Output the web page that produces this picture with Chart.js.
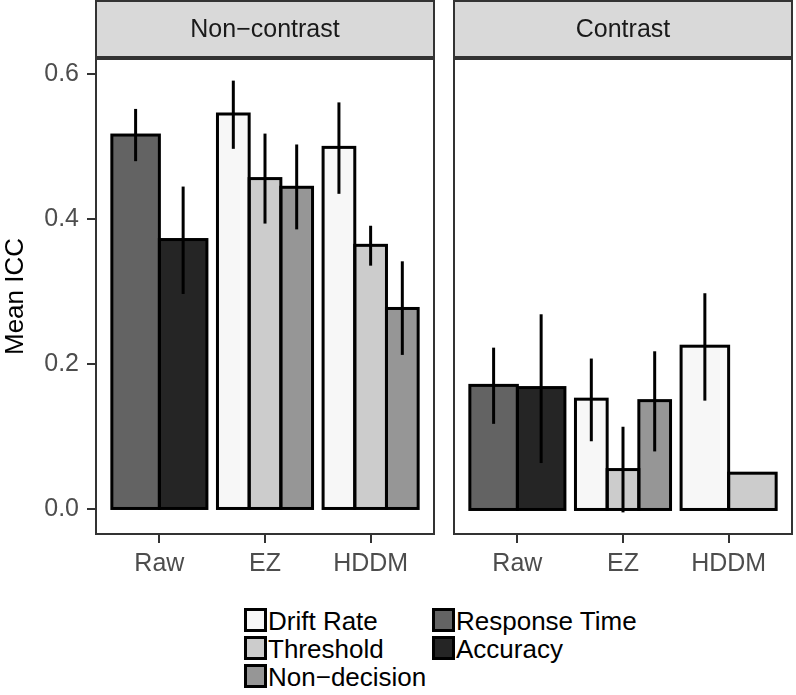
<!DOCTYPE html>
<html>
<head>
<meta charset="utf-8">
<script src="https://cdn.jsdelivr.net/npm/chart.js@4"></script>
<style>
  body { margin: 0; background: #fff; font-family: "Liberation Sans", Arial, sans-serif; }
  #wrap { position: relative; width: 796px; height: 695px; }
  .panel { position: absolute; top: 0; height: 590px; }
  .key { position: absolute; width: 23px; height: 24px; border: 3px solid #000; box-sizing: border-box; }
  .lab { position: absolute; font-size: 26px; line-height: 28px; color: #000; white-space: nowrap; }
</style>
</head>
<body>
<div id="wrap">
  <div class="panel" style="left:0;width:440px"><canvas id="nonContrast"></canvas></div>
  <div class="panel" style="left:440px;width:356px"><canvas id="contrast"></canvas></div>
  <div id="legend"></div>
</div>
<script>
const categories = ['Raw', 'EZ', 'HDDM'];
const seriesNames = ['Drift Rate', 'Threshold', 'Non\u2212decision', 'Response Time', 'Accuracy'];
const seriesFills = ['#f7f7f7', '#cccccc', '#969696', '#636363', '#252525'];
const panelTitles = ['Non\u2212contrast', 'Contrast'];
const yTicks = [0, 0.2, 0.4, 0.6];

// rows follow seriesNames, columns follow categories
const nonContrastMean = [
  [null, 0.545, 0.499],
  [null, 0.456, 0.364],
  [null, 0.444, 0.277],
  [0.516, null, null],
  [0.372, null, null]
];
const nonContrastLow = [
  [null, 0.497, 0.435],
  [null, 0.394, 0.336],
  [null, 0.386, 0.213],
  [0.480, null, null],
  [0.297, null, null]
];
const nonContrastHigh = [
  [null, 0.591, 0.561],
  [null, 0.518, 0.391],
  [null, 0.503, 0.342],
  [0.552, null, null],
  [0.445, null, null]
];

const contrastMean = [
  [null, 0.152, 0.225],
  [null, 0.055, 0.050],
  [null, 0.150, null],
  [0.171, null, null],
  [0.168, null, null]
];
const contrastLow = [
  [null, 0.094, 0.150],
  [null, -0.004, null],
  [null, 0.080, null],
  [0.118, null, null],
  [0.064, null, null]
];
const contrastHigh = [
  [null, 0.208, 0.298],
  [null, 0.114, null],
  [null, 0.218, null],
  [0.223, null, null],
  [0.269, null, null]
];

const FONT = '"Liberation Sans", Arial, sans-serif';

// bar outlines, error bars, panel border and facet strip
const panelDecor = {
  id: 'panelDecor',
  afterDatasetsDraw(chart) {
    const ctx = chart.ctx;
    const yScale = chart.scales.y;
    ctx.save();
    ctx.strokeStyle = '#000';
    ctx.lineWidth = 3;
    chart.data.datasets.forEach((ds, i) => {
      chart.getDatasetMeta(i).data.forEach((bar, j) => {
        if (ds.data[j].y == null) return;
        const p = bar.getProps(['x', 'y', 'base', 'width'], true);
        ctx.strokeRect(p.x - p.width / 2, p.y, p.width, p.base - p.y);
      });
    });
    ctx.lineCap = 'butt';
    chart.data.datasets.forEach((ds, i) => {
      chart.getDatasetMeta(i).data.forEach((bar, j) => {
        if (ds.low[j] == null) return;
        ctx.beginPath();
        ctx.moveTo(bar.x, yScale.getPixelForValue(ds.low[j]));
        ctx.lineTo(bar.x, yScale.getPixelForValue(ds.high[j]));
        ctx.stroke();
      });
    });
    ctx.restore();
  },
  afterDraw(chart, args, opts) {
    const ctx = chart.ctx;
    const a = chart.chartArea;
    ctx.save();
    ctx.strokeStyle = '#333333';
    ctx.lineWidth = 2;
    ctx.strokeRect(a.left, a.top, a.right - a.left, a.bottom - a.top);
    ctx.fillStyle = '#d9d9d9';
    ctx.fillRect(a.left, 1, a.right - a.left, a.top - 3);
    ctx.strokeRect(a.left, 1, a.right - a.left, a.top - 3);
    ctx.fillStyle = '#1a1a1a';
    ctx.font = '25px ' + FONT;
    ctx.textAlign = 'center';
    ctx.textBaseline = 'middle';
    ctx.fillText(opts.title, (a.left + a.right) / 2, a.top / 2 + 1);
    ctx.restore();
  }
};

function makeChart(id, title, mean, low, high, showY, pad) {
  return new Chart(document.getElementById(id), {
    type: 'bar',
    data: {
      datasets: seriesNames.map((name, s) => ({
        label: name,
        data: categories.map((c, k) => ({ x: k + 1, y: mean[s][k] })),
        low: low[s],
        high: high[s],
        backgroundColor: seriesFills[s],
        borderWidth: 0,
        skipNull: true,
        categoryPercentage: 0.9,
        barPercentage: 1
      }))
    },
    options: {
      responsive: true,
      maintainAspectRatio: false,
      animation: false,
      layout: { padding: pad },
      plugins: {
        legend: { display: false },
        tooltip: { enabled: false },
        panelDecor: { title: title }
      },
      scales: {
        x: {
          type: 'linear',
          min: 0.4,
          max: 3.6,
          offset: false,
          afterBuildTicks: sc => { sc.ticks = categories.map((c, k) => ({ value: k + 1 })); },
          afterFit: sc => { sc.height = 56; },
          ticks: {
            callback: (v, i) => categories[i],
            color: '#4d4d4d',
            font: { family: FONT, size: 25 },
            padding: 6,
            autoSkip: false,
            maxRotation: 0
          },
          grid: { offset: false, drawOnChartArea: false, tickLength: 9, color: '#333333', lineWidth: 2 },
          border: { display: false }
        },
        y: {
          display: showY,
          min: -0.0338,
          max: 0.6208,
          afterBuildTicks: sc => { sc.ticks = yTicks.map(v => ({ value: v })); },
          afterFit: sc => { sc.width = showY ? 96 : 0; },
          ticks: {
            callback: v => v.toFixed(1),
            color: '#4d4d4d',
            font: { family: FONT, size: 25 },
            padding: 8
          },
          grid: { drawOnChartArea: false, tickLength: 9, color: '#333333', lineWidth: 2 },
          border: { display: false },
          title: {
            display: true,
            text: 'Mean ICC',
            color: '#000',
            font: { family: FONT, size: 26 },
            padding: { top: 0, bottom: 0 }
          }
        }
      }
    },
    plugins: [panelDecor]
  });
}

makeChart('nonContrast', panelTitles[0], nonContrastMean, nonContrastLow, nonContrastHigh, true,
  { top: 59, left: 0, right: 6, bottom: 0 });
makeChart('contrast', panelTitles[1], contrastMean, contrastLow, contrastHigh, false,
  { top: 59, left: 14, right: 4, bottom: 0 });

// legend: two columns filled top to bottom
const legendCols = [244, 432];
const legendRows = [608, 636, 664];
const legend = document.getElementById('legend');
seriesNames.forEach((name, s) => {
  const x = legendCols[Math.floor(s / 3)];
  const y = legendRows[s % 3];
  const key = document.createElement('div');
  key.className = 'key';
  key.style.left = x + 'px';
  key.style.top = y + 'px';
  key.style.background = seriesFills[s];
  legend.appendChild(key);
  const lab = document.createElement('div');
  lab.className = 'lab';
  lab.style.left = (x + 24) + 'px';
  lab.style.top = (y - 1) + 'px';
  lab.textContent = name;
  legend.appendChild(lab);
});
</script>
</body>
</html>
